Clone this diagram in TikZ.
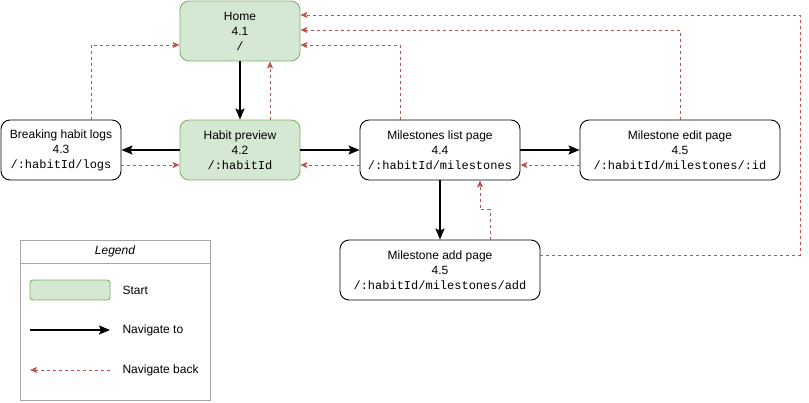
\documentclass[tikz,border=0pt]{standalone}
\usepackage{fontspec}
\setmainfont{Liberation Sans}
\setmonofont{Liberation Mono}
\usepackage{tikz}
\usetikzlibrary{positioning,arrows.meta}
\definecolor{startgreen}{HTML}{D5E8D4}
\definecolor{startedge}{HTML}{82B366}
\definecolor{backred}{HTML}{B85450}
\definecolor{legendgrey}{HTML}{A6A6A6}

\begin{document}
\begin{tikzpicture}[x=1pt,y=-1pt,
 page/.style={draw,rounded corners=9pt,minimum height=60pt,align=center,
   font=\fontsize{12}{15}\selectfont,inner sep=0pt,line width=0.9pt},
 start/.style={page,fill=startgreen,draw=startedge},
 go/.style={-{Stealth[length=11pt,width=9pt,inset=2pt]},line width=1.5pt},
 back/.style={-{Stealth[length=7pt,width=6pt,inset=1.5pt]},backred,dashed,
   dash pattern=on 3pt off 3pt,line width=0.75pt},
 lab/.style={font=\fontsize{12}{15}\selectfont,anchor=west}]
\useasboundingbox (0,0) rectangle (809,402);
% Pages of the habit app.
\node[start,minimum width=120pt] (home) at (240,31) {Home\\4.1\\\texttt{/}};
\node[start,minimum width=120pt] (preview) at (240,150) {Habit preview\\4.2\\\texttt{/:habitId}};
\node[page,minimum width=120pt] (logs) at (61,150) {Breaking habit logs\\4.3\\\texttt{/:habitId/logs}};
\node[page,minimum width=160pt] (list) at (440,150) {Milestones list page\\4.4\\\texttt{/:habitId/milestones}};
\node[page,minimum width=200pt] (edit) at (680,150) {Milestone edit page\\4.5\\\texttt{/:habitId/milestones/:id}};
\node[page,minimum width=200pt] (add) at (440,270) {Milestone add page\\4.5\\\texttt{/:habitId/milestones/add}};
\coordinate (rim) at (800,15);
% Navigate to.
\draw[go] (home) -- (preview);
\draw[go] (preview) -- (logs);
\draw[go] (preview) -- (list);
\draw[go] (list) -- (edit);
\draw[go] (list) -- (add);
% Navigate back.
\draw[back] ([xshift=30pt]preview.north) -- ([xshift=30pt]home.south);
\draw[back] ([yshift=-15pt]logs.east) -- ([yshift=-15pt]preview.west);
\draw[back] ([yshift=-15pt]list.west) -- ([yshift=-15pt]preview.east);
\draw[back] ([yshift=-15pt]edit.west) -- ([yshift=-15pt]list.east);
\draw[back] ([xshift=30pt]logs.north) |- ([yshift=-14pt]home.west);
\draw[back] ([xshift=-40pt]list.north) |- ([yshift=-14pt]home.east);
\draw[back] (edit.north) |- ([yshift=1pt]home.east);
\draw[back] ([xshift=50pt]add.north) -- ++(0pt,30pt) -| ([xshift=40pt]list.south);
\draw[back] ([yshift=15pt]add.east) -| (rim) -- ([yshift=16pt]home.east);
% Legend.
\draw[legendgrey] (20,240) rectangle (210,400);
\draw[legendgrey] (20,263) -- (210,263);
\node[font=\fontsize{12}{15}\selectfont\itshape] (legend) at (115,251.5) {Legend};
\node[start,minimum width=80pt,minimum height=20pt,rounded corners=3pt] (keystart) at (70,290) {};
\node[lab] (startlab) at (119,290) {Start};
\coordinate (gofrom) at (30,330);
\node[lab] (golab) at (119,330) {Navigate to};
\draw[go] (gofrom) -- ([xshift=-9pt]golab.west);
\coordinate (backto) at (30,370);
\node[lab] (backlab) at (119,370) {Navigate back};
\draw[back] ([xshift=-9pt]backlab.west) -- (backto);
\end{tikzpicture}
\end{document}
